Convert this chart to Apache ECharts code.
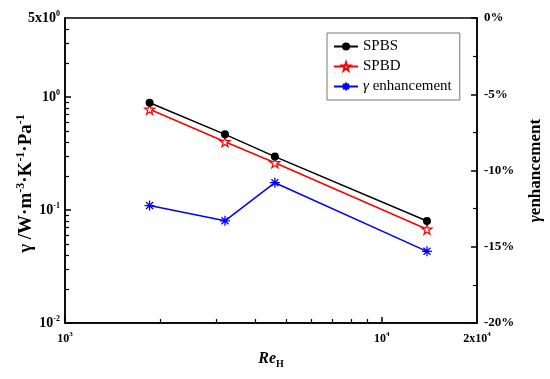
<!DOCTYPE html>
<html>
<head>
<meta charset="utf-8">
<script src="https://cdn.jsdelivr.net/npm/echarts@6/dist/echarts.min.js"></script>
<style>
html,body{margin:0;padding:0;background:#fff;}
#c{width:550px;height:379px;}
</style>
</head>
<body>
<div id="c"></div>
<script>
// ---- data ----
const reH = [1850, 3200, 4600, 13900];
const spbs = [0.89, 0.467, 0.297, 0.080];
const spbd = [0.778, 0.402, 0.262, 0.0675];
const enhancement = [-12.3, -13.3, -10.8, -15.3]; // percent

// ---- tick definitions ----
const xMajorTicks = [1000, 10000];
const xMinorTicks = [2000, 3000, 4000, 5000, 6000, 7000, 8000, 9000];
const xLabelValues = [1000, 10000, 20000];
const xLabelTexts = [['10', '3'], ['10', '4'], ['2x10', '4']];

const yMajorTicks = [0.01, 0.1, 1];
const yMinorTicks = [0.02,0.03,0.04,0.05,0.06,0.07,0.08,0.09,0.2,0.3,0.4,0.5,0.6,0.7,0.8,0.9,2,3,4];
const yLabelValues = [0.01, 0.1, 1, 5];
const yLabelTexts = [['10', '-2'], ['10', '-1'], ['10', '0'], ['5x10', '0']];

const seriesNames = ['SPBS', 'SPBD', 'γ enhancement'];

const FONT = '"Liberation Serif", "DejaVu Serif", serif';

function supLabel(values, texts) {
  return function (v) {
    let best = 0, bd = Infinity;
    values.forEach((x, i) => { const d = Math.abs(Math.log(x) - Math.log(v)); if (d < bd) { bd = d; best = i; } });
    const t = texts[best];
    return '{b|' + t[0] + '}{s|' + t[1] + '}';
  };
}
function richSup(size, supSize, shift) {
  return {
    b: { fontFamily: FONT, fontWeight: 'bold', fontSize: size, color: '#000' },
    s: { fontFamily: FONT, fontWeight: 'bold', fontSize: supSize, color: '#000', padding: [0, 0, shift * 2, 0] }
  };
}

const chart = echarts.init(document.getElementById('c'), null, { renderer: 'canvas' });

const axisLine = { show: true, onZero: false, lineStyle: { color: '#000', width: 1.5 } };
const gridBox = { left: 65, right: 73, top: 18, bottom: 56, outerBoundsMode: 'none', containLabel: false };

const option = {
  backgroundColor: '#fff',
  animation: false,
  grid: [
    Object.assign({ show: true, borderColor: '#000', borderWidth: 1.5, backgroundColor: 'transparent' }, gridBox),
    Object.assign({ show: false }, gridBox)
  ],
  legend: {
    data: seriesNames,
    orient: 'vertical',
    left: 327,
    top: 33,
    padding: [6, 8, 6, 6],
    itemGap: 5,
    itemWidth: 24,
    itemHeight: 10,
    borderColor: '#777',
    borderWidth: 1,
    backgroundColor: '#fff',
    textStyle: { fontFamily: FONT, fontSize: 15, color: '#000',
      rich: { i: { fontFamily: FONT, fontStyle: 'italic', fontSize: 15, color: '#000' }, n: { fontFamily: FONT, fontSize: 15, color: '#000' } } },
    formatter: function (name) {
      if (name === 'γ enhancement') return '{i|γ}{n| enhancement}';
      return name;
    }
  },
  xAxis: [
    {
      gridIndex: 0,
      type: 'log', logBase: 10, min: 1000, max: 20000, position: 'bottom',
      axisLine: axisLine,
      axisTick: { show: true, inside: true, length: 6, lineStyle: { color: '#000', width: 1.5 }, customValues: xMajorTicks },
      axisLabel: { show: true, customValues: xLabelValues, formatter: supLabel(xLabelValues, xLabelTexts), rich: richSup(12, 7, 4), margin: 8 },
      splitLine: { show: false },
      name: '{i|Re}{sub|H}',
      nameLocation: 'middle',
      nameGap: 26,
      nameTextStyle: {
        rich: {
          i: { fontFamily: FONT, fontWeight: 'bold', fontStyle: 'italic', fontSize: 16, color: '#000' },
          sub: { fontFamily: FONT, fontWeight: 'bold', fontSize: 10, color: '#000', padding: [10, 0, 0, 0] }
        }
      }
    },
    {
      gridIndex: 1,
      type: 'log', logBase: 10, min: 1000, max: 20000, position: 'bottom',
      axisLine: { show: false, onZero: false },
      axisTick: { show: true, inside: true, length: 4, lineStyle: { color: '#000', width: 1.2 }, customValues: xMinorTicks },
      axisLabel: { show: false },
      splitLine: { show: false }
    }
  ],
  yAxis: [
    {
      gridIndex: 0,
      type: 'log', logBase: 10, min: 0.01, max: 5, position: 'left',
      axisLine: axisLine,
      axisTick: { show: true, inside: true, length: 6, lineStyle: { color: '#000', width: 1.5 }, customValues: yMajorTicks },
      axisLabel: { show: true, customValues: yLabelValues, formatter: supLabel(yLabelValues, yLabelTexts), rich: richSup(14, 8, 4), margin: 5 },
      splitLine: { show: false },
      name: '{n|γ /W·m}{s|-3}{n|·K}{s|-1}{n|·Pa}{s|-1}',
      nameLocation: 'middle',
      nameRotate: 90,
      nameGap: 28,
      nameMoveOverlap: false,
      nameTextStyle: {
        padding: [0, 26, 0, 0],
        rich: {
          n: { fontFamily: FONT, fontWeight: 'bold', fontSize: 19, color: '#000' },
          s: { fontFamily: FONT, fontWeight: 'bold', fontSize: 12, color: '#000', padding: [0, 0, 10, 0] }
        }
      }
    },
    {
      gridIndex: 1,
      type: 'log', logBase: 10, min: 0.01, max: 5, position: 'left',
      axisLine: { show: false, onZero: false },
      axisTick: { show: true, inside: true, length: 4, lineStyle: { color: '#000', width: 1.2 }, customValues: yMinorTicks },
      axisLabel: { show: false },
      splitLine: { show: false }
    },
    {
      gridIndex: 0,
      type: 'value', min: -20, max: 0, interval: 5, position: 'right',
      axisLine: axisLine,
      axisTick: { show: true, inside: true, length: 6, lineStyle: { color: '#000', width: 1.5 } },
      minorTick: { show: true, splitNumber: 2, length: 4, lineStyle: { color: '#000', width: 1.2 } },
      axisLabel: { show: true, formatter: '{value}%', fontFamily: FONT, fontWeight: 'bold', fontSize: 13, color: '#000', margin: 7 },
      splitLine: { show: false },
      name: '{i|γ}{n|enhancement}',
      nameLocation: 'middle',
      nameRotate: 90,
      nameGap: 50,
      nameTextStyle: {
        rich: {
          i: { fontFamily: FONT, fontWeight: 'bold', fontStyle: 'italic', fontSize: 17, color: '#000' },
          n: { fontFamily: FONT, fontWeight: 'bold', fontSize: 17, color: '#000' }
        }
      }
    }
  ],
  series: [
    {
      name: seriesNames[0], type: 'line', xAxisIndex: 0, yAxisIndex: 0,
      data: reH.map((x, i) => [x, spbs[i]]),
      symbol: 'circle', symbolSize: 8,
      lineStyle: { color: '#000', width: 1.5 },
      itemStyle: { color: '#000' },
      z: 3
    },
    {
      name: seriesNames[1], type: 'line', xAxisIndex: 0, yAxisIndex: 0,
      data: reH.map((x, i) => [x, spbd[i]]),
      symbol: 'path://M50,0 L61,35 L98,35 L68,57 L79,91 L50,70 L21,91 L32,57 L2,35 L39,35 Z',
      symbolSize: 10,
      lineStyle: { color: '#ff0000', width: 1.5 },
      itemStyle: { color: '#fff', borderColor: '#ff0000', borderWidth: 1.2 },
      z: 2
    },
    {
      name: seriesNames[2], type: 'line', xAxisIndex: 0, yAxisIndex: 2,
      data: reH.map((x, i) => [x, enhancement[i]]),
      symbol: 'path://M0,5 L10,5 M5,0 L5,10 M1.5,1.5 L8.5,8.5 M1.5,8.5 L8.5,1.5',
      symbolSize: 10,
      lineStyle: { color: '#0000ff', width: 1.5 },
      itemStyle: { color: '#0000ff', borderColor: '#0000ff', borderWidth: 1.3 },
      z: 2
    }
  ]
};
chart.setOption(option);
</script>
</body>
</html>
